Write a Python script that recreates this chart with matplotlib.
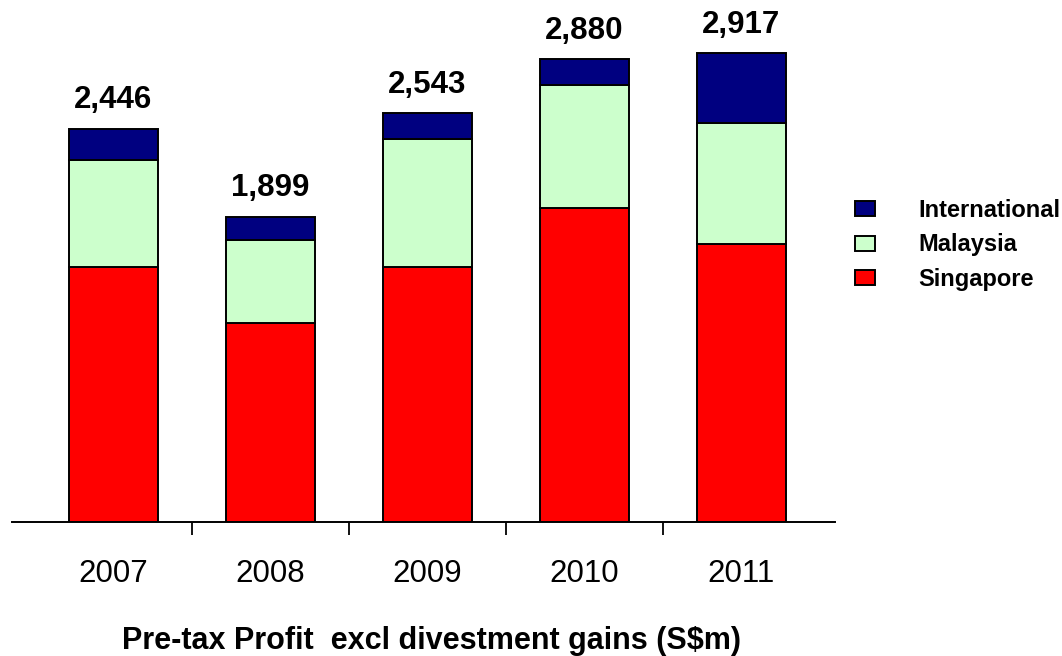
import matplotlib.pyplot as plt
from matplotlib.patches import Patch

plt.rcParams['font.family'] = ['Liberation Sans', 'DejaVu Sans']

# Pre-tax profit by region (S$m)
years = ['2007', '2008', '2009', '2010', '2011']
singapore = [1587, 1239, 1587, 1954, 1730]
malaysia = [666, 517, 797, 766, 753]
international = [193, 143, 159, 160, 434]
totals = [2446, 1899, 2543, 2880, 2917]

fig = plt.figure(figsize=(10.62, 6.56), dpi=100)
ax = fig.add_axes([0.0113, 0.2043, 0.775, 0.765])

x = list(range(len(years)))
w = 0.567
edge = dict(edgecolor='black', linewidth=1.4)
ax.bar(x, singapore, w, color='#ff0000', **edge)
ax.bar(x, malaysia, w, bottom=singapore, color='#ccffcc', **edge)
int_bottom = [s + m for s, m in zip(singapore, malaysia)]
ax.bar(x, international, w, bottom=int_bottom, color='#000080', **edge)

# total labels above each stack
for xi, t in zip(x, totals):
    ax.annotate(f'{t:,}', (xi, t), xytext=(0, 15), textcoords='offset points',
                ha='center', va='baseline', fontsize=22.5, fontweight='bold')

ax.set_xlim(-0.646, 4.596)
ax.set_ylim(0, 3124)
ax.set_yticks([])
for s in ['top', 'right', 'left']:
    ax.spines[s].set_visible(False)
ax.spines['bottom'].set_linewidth(1.4)

ax.set_xticks(x, years, fontsize=22.5)
ax.tick_params(axis='x', which='major', length=0, pad=27)
ax.set_xticks([0.5, 1.5, 2.5, 3.5], minor=True)
ax.tick_params(axis='x', which='minor', length=9, width=1.3, direction='out')

handles = [Patch(facecolor='#000080', **edge),
           Patch(facecolor='#ccffcc', **edge),
           Patch(facecolor='#ff0000', **edge)]
ax.legend(handles, ['International', 'Malaysia', 'Singapore'],
          loc='upper left', bbox_to_anchor=(855 / 1062, 1 - 199 / 656),
          bbox_transform=fig.transFigure, frameon=False,
          prop={'size': 17, 'weight': 'bold'},
          handlelength=0.85, handleheight=0.6, handletextpad=1.82,
          labelspacing=0.48, borderpad=0, borderaxespad=0)

fig.text(431 / 1062, 1 - 641 / 656, 'Pre-tax Profit  excl divestment gains (S$m)',
         ha='center', va='center', fontsize=22, fontweight='bold')

fig.savefig('out.png', dpi=100)
